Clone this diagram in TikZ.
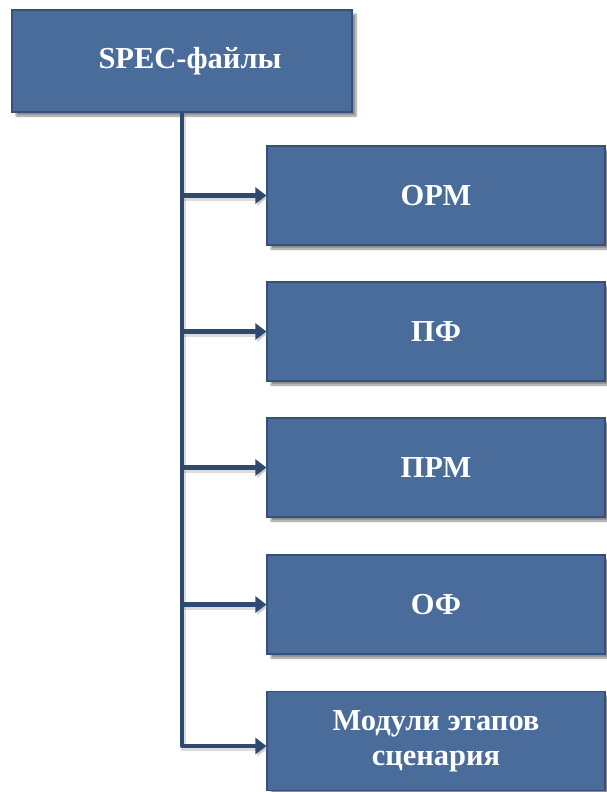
\documentclass[tikz,border=0pt]{standalone}
\usepackage{fontspec}
\setmainfont{Liberation Serif}
\usetikzlibrary{arrows.meta,shadows.blur}
\definecolor{boxfill}{HTML}{4A6C9A}
\definecolor{boxline}{HTML}{36507A}
\definecolor{conn}{HTML}{2F4A70}
\tikzset{
  blk/.style={draw=boxline, line width=1.2pt, fill=boxfill, text=white,
    font=\bfseries\fontsize{30.5}{35}\selectfont, align=center,
    blur shadow={shadow xshift=4pt, shadow yshift=-4pt, shadow blur steps=6, shadow opacity=45},
    inner sep=0pt},
  topblk/.style={blk, minimum width=340pt, minimum height=102pt},
  subblk/.style={blk, minimum width=338pt, minimum height=99pt},
  lineshadow/.style={preaction={draw=black!45, opacity=0.3, line width=5pt,
    transform canvas={shift={(1.5pt,-2.5pt)}}}},
  arr/.style={conn, line width=4.5pt, lineshadow,
    -{Triangle[length=11pt,width=16pt]}}
}
\begin{document}
\begin{tikzpicture}[x=1pt,y=1pt]
\useasboundingbox (0,0) rectangle (607,-792);
\node[topblk] (top) at (182,-61) {\hspace*{16pt}SPEC-файлы};
\node[subblk] (b1) at (436,-195.5) {ОРМ};
\node[subblk] (b2) at (436,-331.5) {ПФ};
\node[subblk] (b3) at (436,-467.5) {ПРМ};
\node[subblk] (b4) at (436,-604.5) {ОФ};
\node[subblk] (b5) at (436,-741) {Модули этапов\\сценария};
\draw[arr, line join=round] (top.south) |- ([yshift=-5pt]b5.west);
\draw[arr] (top.south |- b1.west) -- (b1.west);
\draw[arr] (top.south |- b2.west) -- (b2.west);
\draw[arr] (top.south |- b3.west) -- (b3.west);
\draw[arr] (top.south |- b4.west) -- (b4.west);
\end{tikzpicture}
\end{document}
